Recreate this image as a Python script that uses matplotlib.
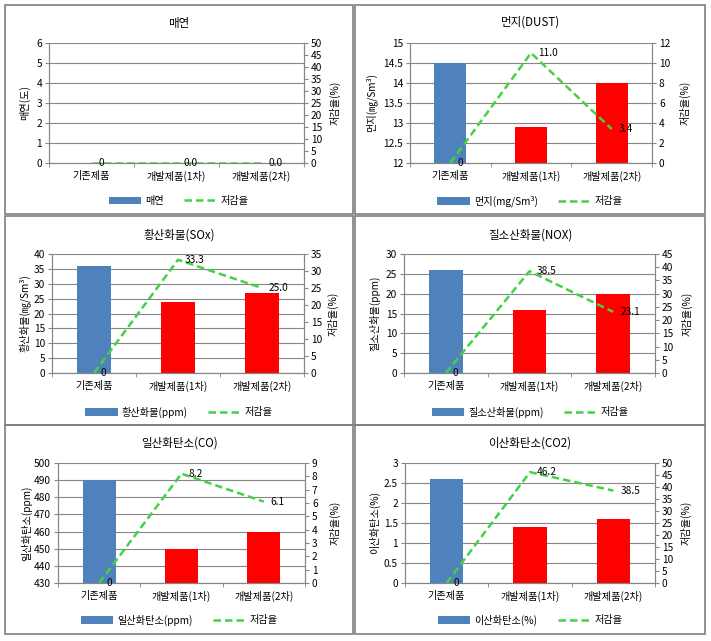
import matplotlib
matplotlib.use("Agg")
import matplotlib.pyplot as plt
import numpy as np
from matplotlib.patches import Rectangle
from matplotlib.ticker import FuncFormatter

plt.rcParams['font.family'] = ['Noto Sans CJK KR', 'DejaVu Sans']

categories = ['기존제품', '개발제품(1차)', '개발제품(2차)']

smoke = [0, 0, 0]
smoke_rate = [0, 0.0, 0.0]
dust = [14.5, 12.9, 14.0]
dust_rate = [0, 11.0, 3.4]
sox = [36, 24, 27]
sox_rate = [0, 33.3, 25.0]
nox = [26, 16, 20]
nox_rate = [0, 38.5, 23.1]
co = [490, 450, 460]
co_rate = [0, 8.2, 6.1]
co2 = [2.6, 1.4, 1.6]
co2_rate = [0, 46.2, 38.5]

titles = ['매연', '먼지(DUST)', '황산화물(SOx)', '질소산화물(NOX)', '일산화탄소(CO)', '이산화탄소(CO2)']
ylabels = ['매연(도)', '먼지(㎎/Sm³)', '황산화물(㎎/Sm³)', '질소산화물(ppm)', '일산화탄소(ppm)', '이산화탄소(%)']
legend_labels = ['매연', '먼지(mg/Sm³)', '황산화물(ppm)', '질소산화물(ppm)', '일산화탄소(ppm)', '이산화탄소(%)']
rate_label = '저감율'
rate_axis_label = '저감율(%)'

W, H = 711, 641
GRAY = '#868686'
BLUE = '#4F81BD'
RED = '#FF0000'
GREEN = '#44D144'


def fx(x):
    return x / W


def fy(y):
    return 1 - y / H


# panel layout in pixels: box, plot area, ylabel x, right label x, title y, legend y, left/right scales
panels = [
    ((5, 5, 353, 214), (49, 43, 304, 163), 25, 335, 23, 201, (0, 6, 1), (0, 50, 5)),
    ((355, 5, 705, 214), (410, 43, 652, 163), 371, 685, 22, 201, (12, 15, 0.5), (0, 12, 2)),
    ((5, 216, 353, 425), (52, 254, 304, 373), 25, 333, 235, 412, (0, 40, 5), (0, 35, 5)),
    ((355, 216, 705, 425), (404, 254, 655, 373), 375, 687, 235, 412, (0, 30, 5), (0, 45, 5)),
    ((5, 425, 353, 634), (58, 463, 305, 583), 27, 335, 443, 620, (430, 500, 10), (0, 9, 1)),
    ((355, 425, 705, 634), (405, 463, 655, 583), 375, 686, 443, 620, (0, 3, 0.5), (0, 50, 5)),
]
values = [smoke, dust, sox, nox, co, co2]
rates = [smoke_rate, dust_rate, sox_rate, nox_rate, co_rate, co2_rate]

fig = plt.figure(figsize=(W / 100, H / 100), dpi=100)

x = np.arange(len(categories))
fs = 7.3

for i, (bx, pa, ylx, yrx, ty, ly, lax, rax) in enumerate(panels):
    fig.add_artist(Rectangle((fx(bx[0]), fy(bx[3])), fx(bx[2] - bx[0]), (bx[3] - bx[1]) / H,
                             transform=fig.transFigure, fill=False, edgecolor='#7F7F7F', lw=1.2))
    ax = fig.add_axes([fx(pa[0]), fy(pa[3]), fx(pa[2] - pa[0]), (pa[3] - pa[1]) / H])
    ax2 = ax.twinx()

    lo, hi, step = lax
    bars = ax.bar(x, np.array(values[i]) - lo, width=0.4, bottom=lo,
                  color=[BLUE, RED, RED], edgecolor='none', zorder=2)
    ax.set_ylim(lo, hi)
    ax.set_yticks(np.arange(lo, hi + step / 2, step))
    ax.yaxis.set_major_formatter(FuncFormatter(lambda v, p: f'{v:g}'))
    ax.set_xlim(-0.5, 2.5)
    ax.set_xticks(x)
    ax.set_xticklabels(categories)
    ax.set_xticks([-0.5, 0.5, 1.5, 2.5], minor=True)
    ax.tick_params(axis='x', which='major', length=0, pad=6, labelsize=fs)
    ax.tick_params(axis='x', which='minor', length=3, color=GRAY)
    ax.tick_params(axis='y', length=3, color=GRAY, labelsize=fs, pad=2)
    ax.grid(axis='y', color=GRAY, lw=0.8, zorder=0)
    ax.set_axisbelow(True)

    rlo, rhi, rstep = rax
    line, = ax2.plot(x, rates[i], color=GREEN, lw=1.8, dashes=(3, 1.6), zorder=3)
    ax2.set_ylim(rlo, rhi)
    ax2.set_yticks(np.arange(rlo, rhi + rstep / 2, rstep))
    ax2.tick_params(axis='y', length=3, color=GRAY, labelsize=fs, pad=2)
    for j, r in enumerate(rates[i]):
        txt = '0' if j == 0 else f'{r:.1f}'
        ax2.annotate(txt, (x[j], r), xytext=(5, 0), textcoords='offset points',
                     va='center', ha='left', fontsize=fs)

    for a in (ax, ax2):
        a.spines['top'].set_visible(False)
        for s in ('left', 'right', 'bottom'):
            a.spines[s].set_color(GRAY)
            a.spines[s].set_linewidth(0.8)

    cx = (bx[0] + bx[2]) / 2
    fig.text(fx(cx), fy(ty), titles[i], ha='center', va='center', fontsize=8.3)
    fig.text(fx(ylx), fy((pa[1] + pa[3]) / 2), ylabels[i], rotation=90,
             ha='center', va='center', fontsize=fs)
    fig.text(fx(yrx), fy((pa[1] + pa[3]) / 2), rate_axis_label, rotation=90,
             ha='center', va='center', fontsize=fs)

    fig.legend([bars[0], line], [legend_labels[i], rate_label],
               loc='center', bbox_to_anchor=(fx(cx), fy(ly)), ncol=2, frameon=False,
               fontsize=fs, handlelength=3.2, handleheight=0.8, columnspacing=2.0,
               handletextpad=0.4)

fig.savefig('out.png', dpi=100)
